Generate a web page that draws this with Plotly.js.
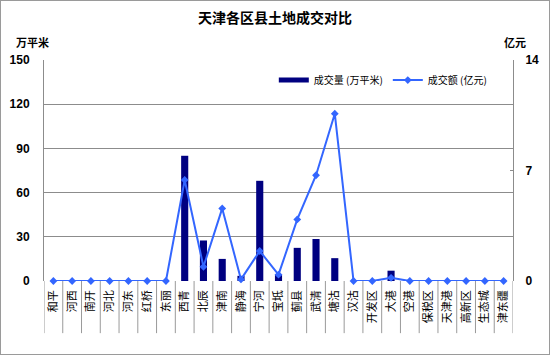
<!DOCTYPE html>
<html>
<head>
<meta charset="utf-8">
<script src="https://cdn.plot.ly/plotly-3.0.1.min.js"></script>
<style>
  html, body { margin: 0; padding: 0; background: #fff; }
  #wrap { position: relative; width: 550px; height: 355px; }
  #chart { width: 550px; height: 355px; }
  #frame { position: absolute; left: 0; top: 0; width: 548px; height: 353px; border: 1px solid #9a9a9a; pointer-events: none; }
</style>
</head>
<body>
<div id="wrap"><div id="chart"></div><div id="frame"></div></div>
<script>
const categories = ["和平","河西","南开","河北","河东","红桥","东丽","西青","北辰","津南","静海","宁河","宝坻","蓟县","武清","塘沽","汉沽","开发区","大港","空港","保税区","天津港","高新区","生态城","津东疆"];
const areaValues = [0,0,0,0,0,0,0,85,27.5,15,3.5,68,4.5,22.5,28.5,15.5,0,0,7,0,0,0,0,0,0];
const amountValues = [0,0,0,0,0,0,0,6.4,0.9,4.6,0.1,1.9,0.4,3.9,6.7,10.6,0,0,0.2,0,0,0,0,0,0];
const leftTicks = [0,30,60,90,120,150];
const rightTicks = [0,7,14];
const areaName = "成交量 (万平米)";
const amountName = "成交额 (亿元)";

const cjk = '"Noto Sans CJK SC", "Noto Sans", sans-serif';
const num = '"Liberation Sans", Arial, sans-serif';
const barColor = '#000080';
const lineColor = '#3366ff';

const traces = [
  {type:'bar', x:categories, y:areaValues, name:areaName, marker:{color:barColor}, width:0.38, showlegend:false, yaxis:'y'},
  {type:'scatter', mode:'lines', x:[null], y:[null], name:areaName, line:{color:barColor, width:5}, showlegend:true, yaxis:'y', hoverinfo:'skip'},
  {type:'scatter', mode:'lines+markers', x:categories, y:amountValues, name:amountName, yaxis:'y2',
   line:{color:lineColor, width:2}, marker:{symbol:'diamond', size:6, color:lineColor}, cliponaxis:false}
];

const shapes = [];
for (let i = 0; i <= categories.length; i++) {
  shapes.push({type:'line', xref:'x', yref:'paper', x0:i-0.5, x1:i-0.5, y0:0, y1:-0.236, line:{color:'#9a9a9a', width:1}});
}

const layout = {
  width:550, height:355,
  margin:{l:44, r:37, t:60, b:74, pad:0},
  paper_bgcolor:'#fff', plot_bgcolor:'#fff',
  bargap:0.6,
  title:{text:'<b>天津各区县土地成交对比</b>', font:{family:cjk, size:14, color:'#000'}, x:0.5, xanchor:'center', y:0.95, yanchor:'middle'},
  xaxis:{type:'category', range:[-0.5, categories.length-0.5], tickangle:-90, ticks:'', showgrid:false, zeroline:false,
         showline:false, tickfont:{family:cjk, size:11, color:'#000'}, ticklabelstandoff:6, fixedrange:true},
  yaxis:{range:[0,150], tickvals:leftTicks, showgrid:true, gridcolor:'#8c8c8c', gridwidth:1, zeroline:false,
         showline:true, linecolor:'#8c8c8c', linewidth:1, ticks:'', ticklabelstandoff:11,
         tickfont:{family:num, size:12, color:'#000', weight:'bold'}, fixedrange:true},
  yaxis2:{range:[0,14], tickvals:rightTicks, overlaying:'y', side:'right', showgrid:false, zeroline:false,
          showline:true, linecolor:'#8c8c8c', linewidth:1, ticks:'inside', ticklen:3, tickcolor:'#8c8c8c', ticklabelstandoff:9,
          tickfont:{family:num, size:12, color:'#000', weight:'bold'}, fixedrange:true},
  legend:{orientation:'h', x:0.49, y:0.975, xanchor:'left', yanchor:'top', bgcolor:'rgba(0,0,0,0)',
          font:{family:cjk, size:10, color:'#000'}, itemwidth:30, tracegroupgap:0},
  shapes:shapes,
  annotations:[
    {text:'<b>万平米</b>', xref:'paper', yref:'paper', x:-0.024, y:1.082, xanchor:'center', yanchor:'middle', showarrow:false, font:{family:cjk, size:11, color:'#000'}},
    {text:'<b>亿元</b>', xref:'paper', yref:'paper', x:1.005, y:1.082, xanchor:'center', yanchor:'middle', showarrow:false, font:{family:cjk, size:11, color:'#000'}}
  ],
  showlegend:true
};

Plotly.newPlot('chart', traces, layout, {displayModeBar:false, staticPlot:true});
</script>
</body>
</html>
